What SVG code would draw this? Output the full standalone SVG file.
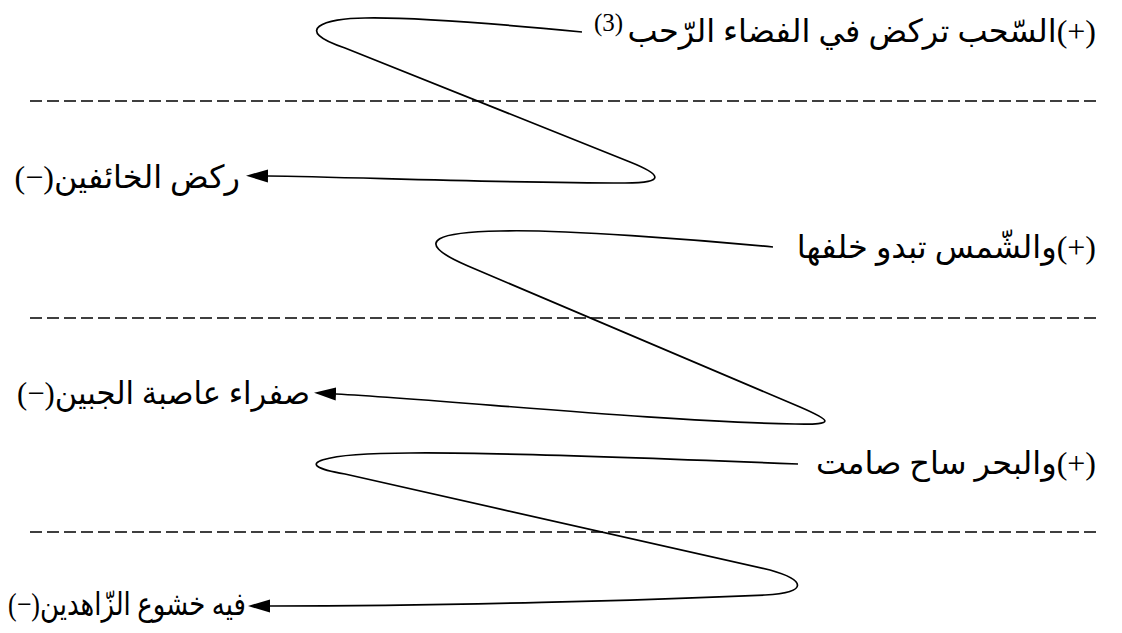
<svg xmlns="http://www.w3.org/2000/svg" width="1122" height="633" viewBox="0 0 1122 633">
<style>
.t{font-family:"Liberation Serif","DejaVu Sans",serif;font-size:32px;fill:#000;direction:rtl;}
.sup{font-family:"Liberation Serif",serif;font-size:25px;fill:#000;}
.c{fill:none;stroke:#000;stroke-width:1.7;}
.d{fill:none;stroke:#000;stroke-width:1.4;stroke-dasharray:12 5;}
</style>
<defs>
<marker id="ah" markerUnits="userSpaceOnUse" markerWidth="22" markerHeight="14" viewBox="0 0 20 12" refX="0" refY="6" orient="auto">
<path d="M0,0 L20,6 L0,12 z" fill="#000"/>
</marker>
</defs>
<rect width="1122" height="633" fill="#fff"/>
<g id="separators">
<line class="d" x1="30" y1="101" x2="1100" y2="101"/>
<line class="d" x1="30" y1="318" x2="1100" y2="318"/>
<line class="d" x1="30" y1="532" x2="1100" y2="532"/>
</g>
<g id="connectors">
<path class="c" marker-end="url(#ah)" d="M582,32 C520,26 420,17 365,18 C325,18 290,30 345,48 L630,162 C660,174 668,183 625,183 C500,183 350,177 268,176"/>
<path class="c" marker-end="url(#ah)" d="M773,247 C700,240 560,229 500,231 C445,232 405,239 468,266 L800,407 C830,420 838,425 795,424 C650,421 450,400 336,394"/>
<path class="c" marker-end="url(#ah)" d="M798,464 C700,460 500,452 410,453 C325,453 285,464 345,474 L770,570 C805,580 810,592 765,595 C650,600 450,606 270,606"/>
</g>
<g id="line1-plus">
<text class="t" x="1096" y="42" text-anchor="start">(+)السّحب تركض في الفضاء الرّحب</text>
<text class="sup" x="594" y="31">(3)</text>
</g>
<g id="line1-minus">
<text class="t" x="240" y="188" text-anchor="start">ركض الخائفين(−)</text>
</g>
<g id="line2-plus">
<text class="t" x="1096" y="258" text-anchor="start">(+)والشّمس تبدو خلفها</text>
</g>
<g id="line2-minus">
<text class="t" x="310" y="404" text-anchor="start" textLength="293" lengthAdjust="spacingAndGlyphs">صفراء عاصبة الجبين(−)</text>
</g>
<g id="line3-plus">
<text class="t" x="1096" y="474" text-anchor="start">(+)والبحر ساح صامت</text>
</g>
<g id="line3-minus">
<text class="t" x="246" y="615" text-anchor="start" textLength="238" lengthAdjust="spacingAndGlyphs">فيه خشوع الزّاهدين(−)</text>
</g>
</svg>
